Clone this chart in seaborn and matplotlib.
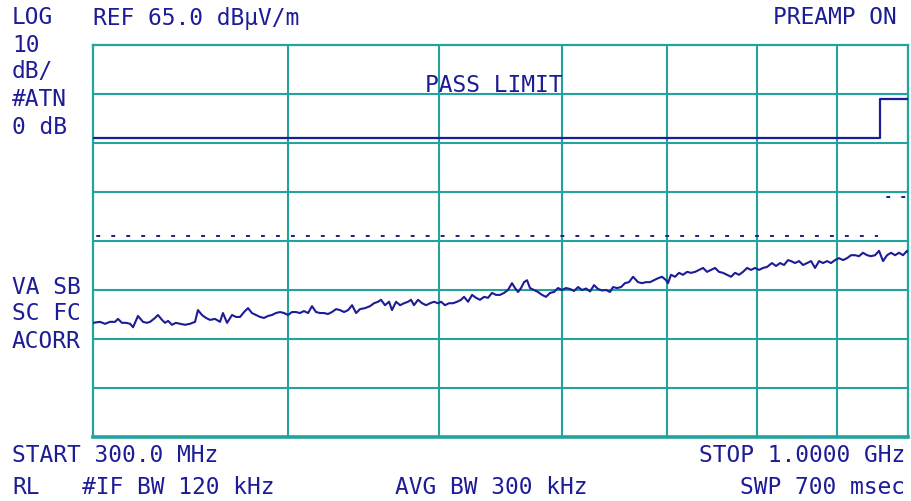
import matplotlib
matplotlib.use("Agg")
import matplotlib.pyplot as plt
from matplotlib.ticker import NullLocator, NullFormatter
import pandas as pd
import seaborn as sns

# ---------------- data ----------------
trace_freq_mhz = [
    300.0, 303.1, 305.4, 307.6, 309.9, 311.3, 313.1, 315.0, 316.9, 318.3,
    320.6, 323.0, 324.9, 326.4, 328.8, 330.2, 332.2, 333.7, 335.2, 337.1,
    339.1, 341.2, 343.7, 346.2, 348.8, 350.3, 352.4, 354.5, 356.6, 359.3,
    361.9, 363.5, 365.7,
    368.4, 370.6, 372.8, 375.0, 377.2, 379.4, 381.7, 384.0, 386.2, 388.5,
    390.8, 393.1, 395.5, 397.8, 400.2, 402.5, 404.9, 407.3, 409.7, 412.2,
    414.6, 417.1, 419.5, 422.0, 424.5, 427.0, 429.6, 432.1, 434.7, 437.3,
    439.9, 442.5, 445.1,
    448.4, 451.7, 454.4, 457.1, 459.1, 461.8, 464.6, 466.6, 469.4, 472.2,
    475.0, 477.8, 479.9, 482.0, 484.9, 487.8, 490.7, 493.6, 496.5, 499.4,
    501.7, 504.6, 507.6, 510.6, 513.7, 516.7, 519.0, 522.1, 525.2, 528.3,
    531.4, 534.6, 537.7, 540.9, 544.1,
    547.3, 550.6, 553.8, 557.1, 559.6, 562.1, 564.6, 567.1, 569.6, 572.1,
    575.5, 578.9, 582.4, 585.8, 589.3, 592.8, 596.3, 599.8, 603.4, 607.0,
    610.6, 614.2, 617.8, 621.5, 625.2, 628.9, 632.6, 636.3, 640.1, 643.9,
    646.8, 650.6, 654.5, 658.3, 662.2, 666.2,
    671.1, 675.1, 679.1, 683.1, 687.2, 691.2, 695.3, 699.5, 701.5, 704.6,
    708.8, 713.0, 717.2, 721.5, 725.8, 730.1, 734.4, 738.8, 743.1, 747.5,
    752.0, 756.4, 760.9, 765.4, 770.0, 774.5, 779.1, 783.7, 788.4, 793.0,
    797.7, 802.5, 807.2, 812.0,
    818.0, 822.9, 827.8, 832.7, 837.6, 841.3, 846.3, 851.3, 856.4, 861.4,
    866.6, 871.7, 876.9, 882.0, 887.3, 892.5, 897.8, 903.1, 908.5, 913.9,
    919.3, 924.8, 930.2, 935.7, 941.3, 946.9, 952.5, 958.1, 963.8, 969.5,
    975.3, 981.0, 986.9, 992.7, 998.6, 1000.0,
]
trace_level_dbuv = [
    8.3, 8.5, 8.1, 8.5, 8.5, 9.1, 8.3, 8.3, 8.1, 7.4,
    9.7, 8.5, 8.3, 8.5, 9.3, 9.9, 8.9, 8.3, 8.7, 7.9,
    8.3, 8.1, 7.9, 8.1, 8.5, 10.9, 9.9, 9.3, 8.9, 9.1,
    8.5, 10.3, 8.3,
    9.9, 9.5, 9.5, 10.5, 11.3, 10.3, 9.9, 9.5, 9.3, 9.7,
    9.9, 10.3, 10.5, 10.3, 9.9, 10.5, 10.5, 10.3, 10.7, 10.3,
    11.7, 10.5, 10.3, 10.3, 10.1, 10.5, 11.1, 10.9, 10.5, 10.9,
    11.9, 10.3, 11.1,
    11.3, 11.7, 12.3, 12.6, 13.0, 11.9, 12.6, 10.9, 12.6, 11.9,
    12.3, 12.6, 13.0, 11.9, 13.0, 12.3, 11.9, 12.3, 12.6, 12.3,
    12.6, 11.9, 12.3, 12.3, 12.6, 13.0, 13.6, 12.6, 14.0, 13.4,
    13.0, 13.6, 13.4, 14.4, 14.0,
    14.0, 14.4, 15.0, 16.4, 15.4, 14.6, 15.4, 16.6, 17.0, 15.4,
    15.0, 14.6, 14.0, 13.6, 14.4, 14.6, 15.4, 15.0, 15.4, 15.2,
    14.8, 15.6, 15.0, 15.3, 14.7, 16.0, 15.2, 14.9, 15.0, 14.6,
    15.6, 15.4, 15.6, 16.4, 16.6, 17.7,
    16.6, 16.4, 16.6, 16.6, 17.0, 17.4, 17.7, 17.0, 16.4, 18.1,
    17.7, 18.5, 18.1, 18.7, 18.5, 18.7, 19.1, 19.5, 18.7, 19.1,
    19.5, 18.7, 18.5, 18.1, 17.7, 18.5, 18.1, 18.7, 19.5, 19.1,
    19.5, 19.1, 19.5, 19.7,
    20.5, 19.9, 20.5, 20.1, 21.1, 20.9, 20.5, 20.9, 20.1, 20.5,
    20.9, 19.5, 20.9, 20.5, 20.9, 20.5, 21.1, 21.5, 21.1, 21.5,
    22.1, 22.1, 21.9, 22.6, 22.1, 21.9, 22.1, 23.0, 20.9, 22.1,
    22.6, 22.1, 22.6, 22.1, 23.0, 22.8,
]

limit_freq_mhz = [300, 960, 960, 1000]
limit_level_dbuv = [46, 46, 54, 54]
margin_lo_freq_mhz = [300, 956]
margin_lo_level_dbuv = [26, 26]
margin_hi_freq_mhz = [964, 1000]
margin_hi_level_dbuv = [34, 34]

grid_freq_mhz = [400, 500, 600, 700, 800, 900]
grid_level_dbuv = [-5, 5, 15, 25, 35, 45, 55]
x_range = (300, 1000)
y_range = (-15, 65)

# ---------------- style ----------------
sns.set_style("white")
plt.rcParams["font.family"] = ["DejaVu Sans Mono", "DejaVu Sans"]

BLUE = "#1c1c96"
TEAL = "#22a39f"
W, H = 911, 501

fig = plt.figure(figsize=(W / 100, H / 100), dpi=100)
fig.patch.set_facecolor("white")
ax = fig.add_axes([93 / W, 1 - 437 / H, (908 - 93) / W, (437 - 45) / H])
ax.set_facecolor("white")

trace_df = pd.DataFrame({"freq": trace_freq_mhz, "level": trace_level_dbuv})
sns.lineplot(data=trace_df, x="freq", y="level", ax=ax, color=BLUE,
             linewidth=1.5, estimator=None, sort=False, zorder=5)

limit_df = pd.DataFrame({"freq": limit_freq_mhz, "level": limit_level_dbuv})
sns.lineplot(data=limit_df, x="freq", y="level", ax=ax, color=BLUE,
             linewidth=1.6, estimator=None, sort=False, zorder=5)

for fx, fy in ((margin_lo_freq_mhz, margin_lo_level_dbuv),
               (margin_hi_freq_mhz, margin_hi_level_dbuv)):
    mdf = pd.DataFrame({"freq": fx, "level": fy})
    sns.lineplot(data=mdf, x="freq", y="level", ax=ax, color=BLUE,
                 linewidth=1.4, estimator=None, sort=False, zorder=5,
                 linestyle=(6, (2.0, 5.7)))

ax.set_xscale("log")
ax.set_xlim(*x_range)
ax.set_ylim(*y_range)
ax.set_xticks(grid_freq_mhz)
ax.set_yticks(grid_level_dbuv)
ax.xaxis.set_minor_locator(NullLocator())
ax.xaxis.set_minor_formatter(NullFormatter())
ax.set_xticklabels([])
ax.set_yticklabels([])
ax.tick_params(length=0)
ax.set_xlabel("")
ax.set_ylabel("")
ax.grid(True, color=TEAL, linewidth=1.5)
ax.set_axisbelow(True)
for name, sp in ax.spines.items():
    sp.set_visible(True)
    sp.set_color(TEAL)
    sp.set_linewidth(1.6)
ax.spines["bottom"].set_linewidth(2.6)


def put(px, py, s, ha="left"):
    fig.text(px / W, 1 - py / H, s, ha=ha, va="center", color=BLUE,
             fontsize=16.5, family=["DejaVu Sans Mono", "DejaVu Sans"])


put(12, 18, "LOG")
put(93, 18, "REF 65.0 dB\u00b5V/m")
put(897, 18, "PREAMP ON", ha="right")
put(12, 45, "10")
put(12, 72, "dB/")
put(12, 100, "#ATN")
put(12, 128, "0 dB")
put(494, 85, "PASS LIMIT", ha="center")
put(12, 288, "VA SB")
put(12, 314, "SC FC")
put(12, 341, "ACORR")
put(12, 456, "START 300.0 MHz")
put(905, 456, "STOP 1.0000 GHz", ha="right")
put(12, 487, "RL")
put(82, 487, "#IF BW 120 kHz")
put(491, 487, "AVG BW 300 kHz", ha="center")
put(905, 487, "SWP 700 msec", ha="right")

fig.savefig("out.png", dpi=100)
